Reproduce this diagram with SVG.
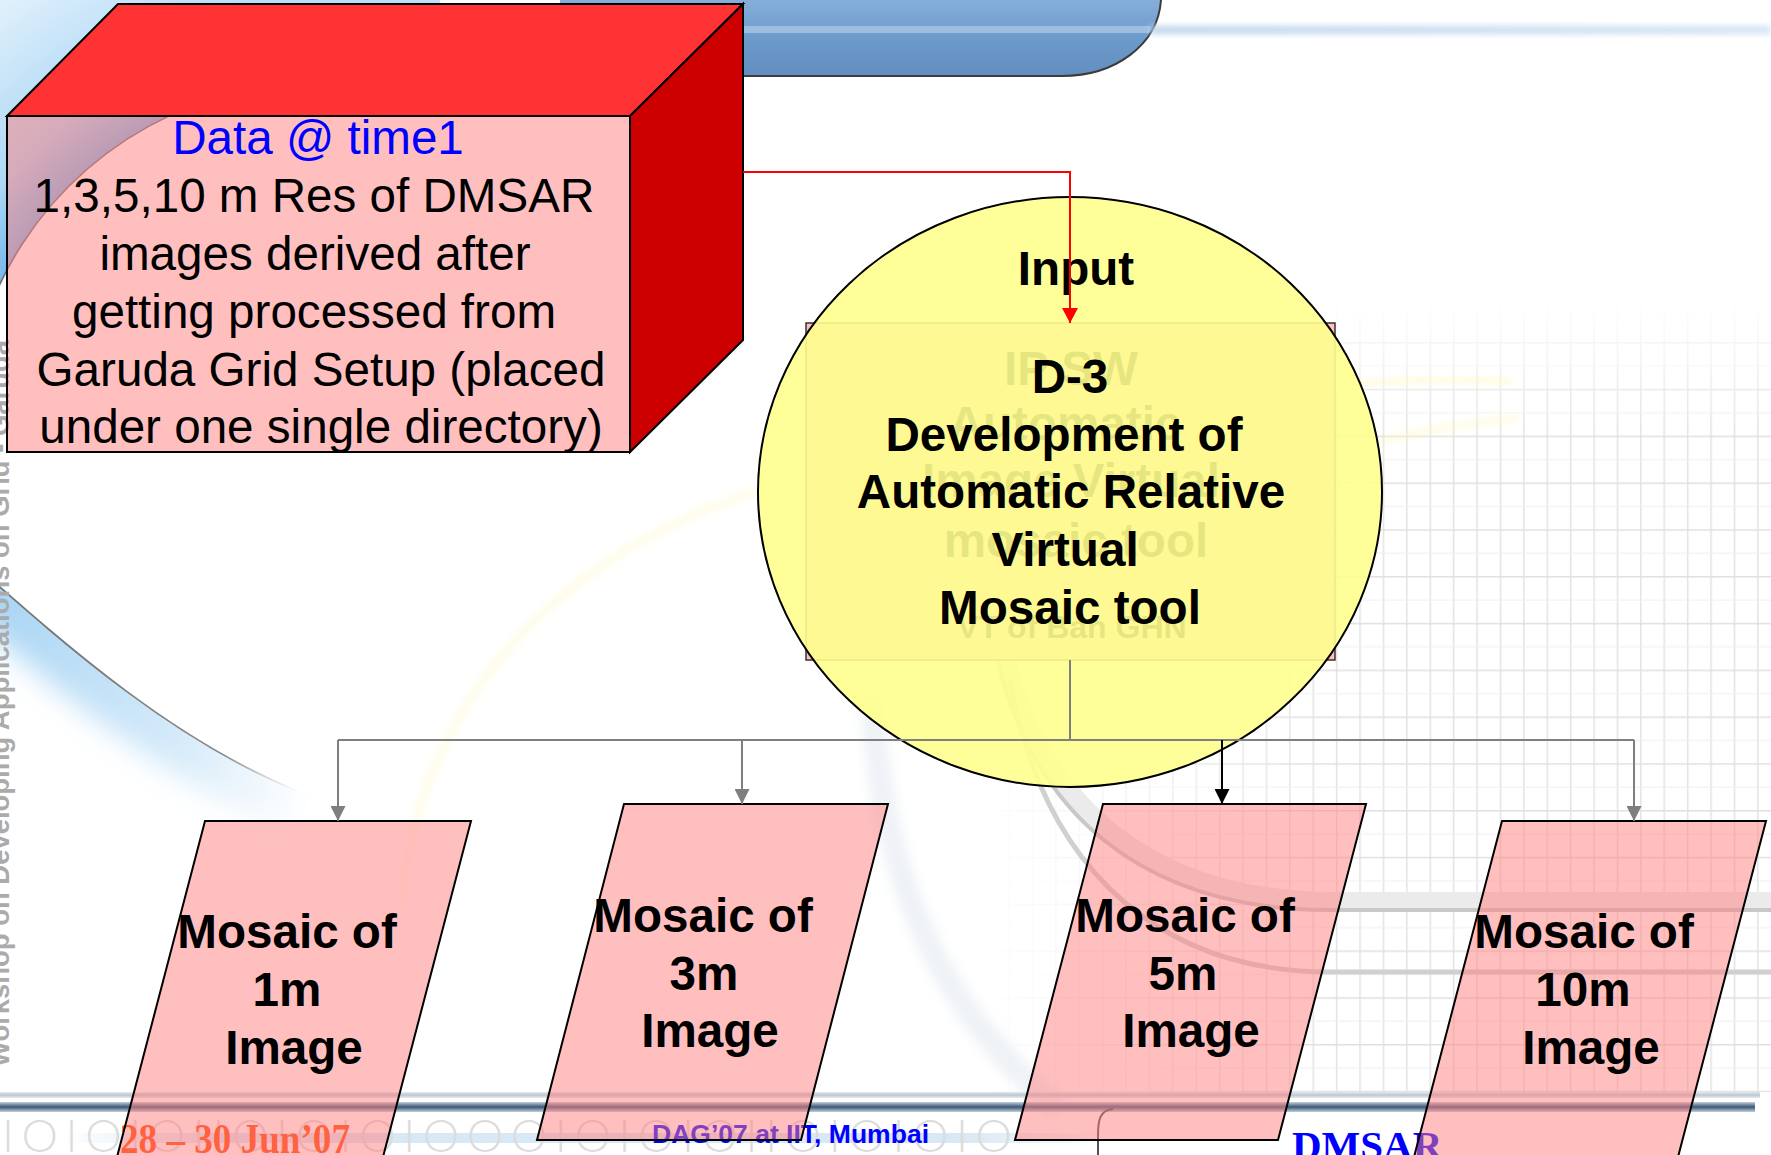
<svg xmlns="http://www.w3.org/2000/svg" width="1771" height="1155" viewBox="0 0 1771 1155">
  <defs>
    <style>
      .lbl { font-family: "Liberation Sans", Arial, Helvetica, sans-serif; font-size: 47.6px; font-weight: bold; fill: #000; text-anchor: middle; }
      .body { font-family: "Liberation Sans", Arial, Helvetica, sans-serif; font-size: 47.6px; fill: #000; text-anchor: middle; }
      .pinkShape { fill: #FF8080; fill-opacity: 0.5; stroke: #000; stroke-width: 2; stroke-linejoin: miter; }
      .edge { stroke: #000; stroke-width: 2; stroke-linejoin: miter; }
      .tree { fill: none; stroke: #7F7F7F; stroke-width: 2; }
      .footSerif { font-family: "Liberation Serif", "Times New Roman", serif; font-weight: bold; }
      .footSans { font-family: "Liberation Sans", Arial, sans-serif; font-weight: bold; }
      .binary { font-family: Lato, "Liberation Sans", Arial, sans-serif; font-weight: 300; }
    </style>

    <!-- sky glow outside the big background circle -->
    <radialGradient id="skyGlow" gradientUnits="userSpaceOnUse" cx="318" cy="435" r="560">
      <stop offset="0.62" stop-color="#72B6EA"/>
      <stop offset="0.72" stop-color="#AED8F5"/>
      <stop offset="1" stop-color="#EAF5FD"/>
    </radialGradient>
    <linearGradient id="lowGlow" gradientUnits="userSpaceOnUse" x1="0" y1="0" x2="320" y2="0">
      <stop offset="0" stop-color="#8CC7F0" stop-opacity="0.75"/>
      <stop offset="0.55" stop-color="#A8D4F4" stop-opacity="0.5"/>
      <stop offset="1" stop-color="#C8E4F8" stop-opacity="0"/>
    </linearGradient>
    <linearGradient id="lowLine" gradientUnits="userSpaceOnUse" x1="0" y1="0" x2="300" y2="0">
      <stop offset="0" stop-color="#707070"/>
      <stop offset="0.75" stop-color="#8A8A8A"/>
      <stop offset="1" stop-color="#BBBBBB" stop-opacity="0"/>
    </linearGradient>
    <filter id="soft14" x="-50%" y="-50%" width="200%" height="200%">
      <feGaussianBlur stdDeviation="14"/>
    </filter>
    <filter id="soft6" x="-50%" y="-50%" width="200%" height="200%">
      <feGaussianBlur stdDeviation="6"/>
    </filter>
    <filter id="soft3" x="-50%" y="-50%" width="200%" height="200%">
      <feGaussianBlur stdDeviation="3"/>
    </filter>

    <!-- top banner -->
    <linearGradient id="bannerGrad" x1="0" y1="0" x2="0" y2="1">
      <stop offset="0" stop-color="#86AEDA"/>
      <stop offset="0.5" stop-color="#6C9ACB"/>
      <stop offset="1" stop-color="#628FC0"/>
    </linearGradient>
    <linearGradient id="streakGrad" gradientUnits="userSpaceOnUse" x1="1150" y1="0" x2="1771" y2="0">
      <stop offset="0" stop-color="#BCD4EC"/>
      <stop offset="1" stop-color="#D2E3F3"/>
    </linearGradient>

    <!-- faint grid on the right -->
    <pattern id="gridPat" x="1312.5" y="342" width="23.4" height="46.8" patternUnits="userSpaceOnUse">
      <path d="M0.75,0 V46.8" stroke="#E3E3E3" stroke-width="1.5"/>
      <path d="M0,0.75 H23.4" stroke="#E0E0E0" stroke-width="1.5"/>
      <path d="M0,24 H23.4" stroke="#EFEFEF" stroke-width="1"/>
    </pattern>
    <linearGradient id="fadeX" gradientUnits="userSpaceOnUse" x1="980" y1="0" x2="1320" y2="0">
      <stop offset="0" stop-color="#000"/>
      <stop offset="1" stop-color="#FFF"/>
    </linearGradient>
    <linearGradient id="fadeY" gradientUnits="userSpaceOnUse" x1="0" y1="300" x2="0" y2="430">
      <stop offset="0" stop-color="#000"/>
      <stop offset="1" stop-color="#FFF"/>
    </linearGradient>
    <mask id="maskX" maskUnits="userSpaceOnUse" x="0" y="0" width="1771" height="1155">
      <rect x="0" y="0" width="1771" height="1155" fill="url(#fadeX)"/>
    </mask>
    <mask id="maskY" maskUnits="userSpaceOnUse" x="0" y="0" width="1771" height="1155">
      <rect x="0" y="0" width="1771" height="1155" fill="url(#fadeY)"/>
    </mask>

    <!-- footer bar -->
    <linearGradient id="barDark" x1="0" y1="0" x2="0" y2="1">
      <stop offset="0" stop-color="#C4D0DB"/>
      <stop offset="0.5" stop-color="#3A5877"/>
      <stop offset="1" stop-color="#C4D0DB"/>
    </linearGradient>
    <linearGradient id="barLight" x1="0" y1="0" x2="0" y2="1">
      <stop offset="0" stop-color="#E4E9EE"/>
      <stop offset="0.5" stop-color="#BCC7D2"/>
      <stop offset="1" stop-color="#E4E9EE"/>
    </linearGradient>
    <linearGradient id="footStreak" x1="0" y1="0" x2="1" y2="0">
      <stop offset="0" stop-color="#D9E8F5" stop-opacity="0"/>
      <stop offset="0.15" stop-color="#D9E8F5"/>
      <stop offset="0.85" stop-color="#D9E8F5"/>
      <stop offset="1" stop-color="#D9E8F5" stop-opacity="0"/>
    </linearGradient>

    <!-- arrowheads -->
    <marker id="arrGray" viewBox="0 0 15 15" refX="15" refY="7.5" markerWidth="15" markerHeight="15" markerUnits="userSpaceOnUse" orient="auto">
      <path d="M0,0 L15,7.5 L0,15 Z" fill="#7F7F7F"/>
    </marker>
    <marker id="arrBlack" viewBox="0 0 15 15" refX="15" refY="7.5" markerWidth="15" markerHeight="15" markerUnits="userSpaceOnUse" orient="auto">
      <path d="M0,0 L15,7.5 L0,15 Z" fill="#000"/>
    </marker>
    <marker id="arrRed" viewBox="0 0 15 16" refX="15" refY="8" markerWidth="15" markerHeight="16" markerUnits="userSpaceOnUse" orient="auto">
      <path d="M0,0 L15,8 L0,16 Z" fill="#FF0000"/>
    </marker>
  </defs>

  <!-- ===== background ===== -->
  <rect x="0" y="0" width="1771" height="1155" fill="#FFFFFF"/>

  <g id="background">
    <!-- blue sky outside the big circle -->
    <path d="M -10,-10 H 440 V 100.2 L 426.8,100.2 A 352 352 0 0 0 -28.7,496.1 Z" fill="url(#skyGlow)"/>
    <path d="M -40,552 C 60,640 170,740 300,792" fill="none" stroke="url(#lowGlow)" stroke-width="80" filter="url(#soft14)"/>
    <!-- inside of the big circle -->
    <path d="M 426.8,100.2 A 352 352 0 0 0 -28.7,496.1 L -40,552 C 60,640 170,740 300,792 L 820,800 L 820,100 Z" fill="#FFFFFF"/>
    <path d="M 426.8,100.2 A 352 352 0 0 0 -28.7,496.1" fill="none" stroke="#6E6E6E" stroke-width="1.6"/>
    <path d="M -40,552 C 60,640 170,740 300,792" fill="none" stroke="url(#lowLine)" stroke-width="1.8"/>

    <!-- top banner -->
    <path d="M 560,0 L 1161,0 C 1158,45 1115,76 1062,76 L 560,76 Z" fill="url(#bannerGrad)"/>
    <rect x="560" y="26" width="590" height="7" fill="#A9C5E2" opacity="0.8"/>
    <path d="M 1161,0 C 1158,45 1115,76 1062,76 L 560,76" fill="none" stroke="#3C3C3C" stroke-width="2"/>
    <rect x="1150" y="26" width="621" height="8" fill="url(#streakGrad)" filter="url(#soft3)"/>

    <!-- faint grid -->
    <g mask="url(#maskX)">
      <rect x="960" y="300" width="811" height="792" fill="url(#gridPat)" mask="url(#maskY)"/>
    </g>

    <!-- faint yellow swirls -->
    <path d="M 402,905 C 415,720 540,560 760,490" fill="none" stroke="#FFF6BC" stroke-width="9" opacity="0.3" filter="url(#soft3)"/>
    <path d="M 1360,384 C 1420,378 1470,378 1512,382" fill="none" stroke="#FFF6BC" stroke-width="6" opacity="0.55" filter="url(#soft3)"/>
    <path d="M 1378,442 C 1430,428 1480,422 1518,418" fill="none" stroke="#FFF6BC" stroke-width="5" opacity="0.55" filter="url(#soft3)"/>

    <!-- bluish sweep and grey rings, lower right -->
    <path d="M 872,690 C 880,880 940,1010 1060,1110" fill="none" stroke="#C8D5E2" stroke-width="24" opacity="0.3" filter="url(#soft6)"/>
    <path d="M 996,612 C 1026,812 1156,902 1336,902 L 1771,902" fill="none" stroke="#EBEBEB" stroke-width="20"/>
    <path d="M 990,620 C 1020,820 1150,910 1330,910 L 1771,910" fill="none" stroke="#C8C8C8" stroke-width="4"/>
    <path d="M 1010,680 C 1045,880 1170,972 1330,972 L 1771,972" fill="none" stroke="#D0D0D0" stroke-width="5"/>

    <!-- footer bar -->
    <rect x="0" y="1092" width="1760" height="6" fill="url(#barLight)"/>
    <rect x="0" y="1102" width="1755" height="10" fill="url(#barDark)"/>
    <rect x="60" y="1133" width="1060" height="10" fill="url(#footStreak)"/>
    <text class="binary" x="2" y="1152" font-size="46" fill="#DCDCDC" textLength="1010" lengthAdjust="spacing">IOIOIOIIOIOIOIOOOIOIOIOIIOIOIOIO</text>

    <!-- footer texts -->
    <text class="footSerif" x="120" y="1153" font-size="43" fill="#FF4400" textLength="230" lengthAdjust="spacingAndGlyphs">28 – 30 Jun’07</text>
    <text class="footSans" x="652" y="1143" font-size="26" fill="#0000FF" textLength="277" lengthAdjust="spacingAndGlyphs">DAG’07 at IIT, Mumbai</text>
    <text class="footSerif" x="1292" y="1159" font-size="41" fill="#0000FF">DMSAR</text>
    <path d="M 1113,1109 C 1100,1110 1098,1120 1098,1135 L 1098,1155" fill="none" stroke="#505050" stroke-width="2"/>

    <!-- side caption -->
    <text class="footSans" transform="translate(9,1067) rotate(-90)" x="0" y="0" font-size="27" fill="#ABABAB" textLength="727" lengthAdjust="spacingAndGlyphs">Workshop on Developing Applications on Grid - Garuda</text>
  </g>

  <!-- ===== nodes ===== -->
  <g id="node-data-cube">
    <polygon points="7,116 118,4 743,4 630,116" fill="#FF3333" class="edge"/>
    <polygon points="630,116 743,4 743,340 630,452" fill="#CC0000" class="edge"/>
    <rect x="7" y="116" width="623" height="336" class="pinkShape"/>
    <text class="body" x="318" y="154" style="fill:#0000FF">Data @ time1</text>
    <text class="body" x="314" y="212">1,3,5,10 m Res of DMSAR</text>
    <text class="body" x="315" y="270">images derived after</text>
    <text class="body" x="314" y="328">getting processed from</text>
    <text class="body" x="321" y="386">Garuda Grid Setup (placed</text>
    <text class="body" x="321" y="443">under one single directory)</text>
  </g>

  <g id="node-ip-sw">
    <rect x="806" y="323" width="529" height="337" fill="#FFBFBF" stroke="#333" stroke-width="1.5"/>
    <text class="lbl" x="1071" y="385">IP SW</text>
    <text class="lbl" x="1065" y="440">Automatic</text>
    <text class="lbl" x="1071" y="497">Image Virtual</text>
    <text class="lbl" x="1076" y="557">mosaic tool</text>
    <text class="lbl" x="1072" y="638" style="font-size:32px">VT of Ban GHN</text>
  </g>

  <g id="node-d3-tool">
    <ellipse cx="1070" cy="492" rx="312" ry="295" fill="#FFFF8E" fill-opacity="0.9" stroke="#000" stroke-width="2"/>
    <text class="lbl" x="1076" y="285">Input</text>
    <text class="lbl" x="1070" y="393">D-3</text>
    <text class="lbl" x="1064" y="451">Development of</text>
    <text class="lbl" x="1071" y="508">Automatic Relative</text>
    <text class="lbl" x="1065" y="566">Virtual</text>
    <text class="lbl" x="1070" y="624">Mosaic tool</text>
  </g>

  <g id="node-mosaic-1m">
    <polygon points="205,821 471,821 383,1157 117,1157" class="pinkShape"/>
    <text class="lbl" x="287" y="948">Mosaic of</text>
    <text class="lbl" x="287" y="1006">1m</text>
    <text class="lbl" x="294" y="1064">Image</text>
  </g>

  <g id="node-mosaic-3m">
    <polygon points="624,804 888,804 801,1140 537,1140" class="pinkShape"/>
    <text class="lbl" x="703" y="932">Mosaic of</text>
    <text class="lbl" x="704" y="990">3m</text>
    <text class="lbl" x="710" y="1047">Image</text>
  </g>

  <g id="node-mosaic-5m">
    <polygon points="1103,804 1366,804 1278,1140 1015,1140" class="pinkShape"/>
    <text class="lbl" x="1185" y="932">Mosaic of</text>
    <text class="lbl" x="1183" y="990">5m</text>
    <text class="lbl" x="1191" y="1047">Image</text>
  </g>

  <g id="node-mosaic-10m">
    <polygon points="1502,821 1766,821 1678,1157 1414,1157" class="pinkShape"/>
    <text class="lbl" x="1584" y="948">Mosaic of</text>
    <text class="lbl" x="1583" y="1006">10m</text>
    <text class="lbl" x="1591" y="1064">Image</text>
  </g>

  <!-- ===== connectors ===== -->
  <g id="connectors">
    <path d="M 743,172 H 1070 V 323" fill="none" stroke="#FF0000" stroke-width="2" marker-end="url(#arrRed)"/>
    <path d="M 1070,660 V 740" class="tree"/>
    <path d="M 338,740 H 1634" class="tree"/>
    <path d="M 338,740 V 821" class="tree" marker-end="url(#arrGray)"/>
    <path d="M 742,740 V 804" class="tree" marker-end="url(#arrGray)"/>
    <path d="M 1222,740 V 804" fill="none" stroke="#000" stroke-width="2" marker-end="url(#arrBlack)"/>
    <path d="M 1634,740 V 821" class="tree" marker-end="url(#arrGray)"/>
  </g>
</svg>
